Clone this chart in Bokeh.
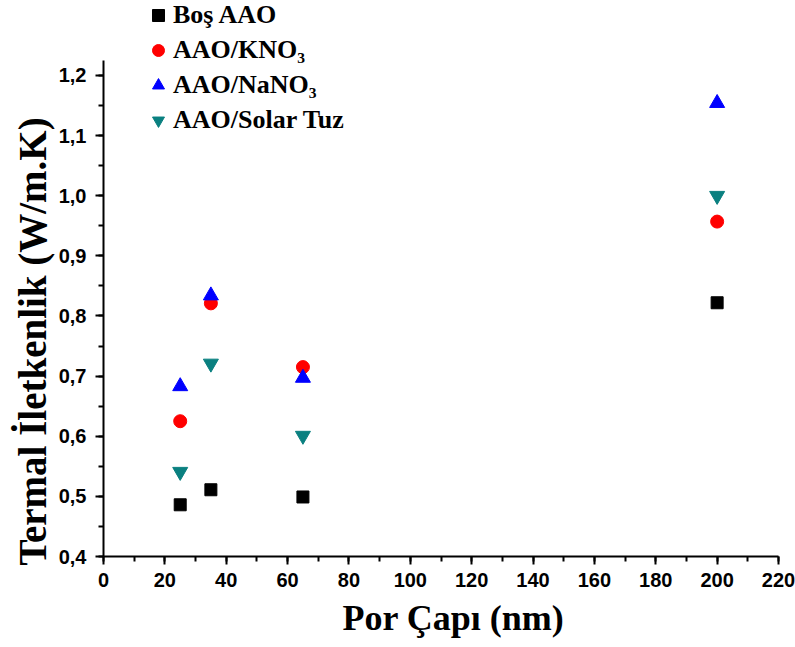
from bokeh.plotting import figure
from bokeh.models import Range1d, Legend, LegendItem, SingleIntervalTicker, CustomJSTickFormatter, Title
from bokeh.embed import file_html
from bokeh.resources import INLINE

# data
pore = [25, 35, 65, 200]
bos_aao = [0.486, 0.511, 0.499, 0.822]
aao_kno3 = [0.625, 0.821, 0.715, 0.957]
aao_nano3 = [0.683, 0.834, 0.697, 1.154]
aao_solar = [0.541, 0.721, 0.601, 1.000]
names = ["Boş AAO", "AAO/KNO₃", "AAO/NaNO₃", "AAO/Solar Tuz"]
x_title = "Por Çapı (nm)"
y_title = "Termal İletkenlik (W/m.K)"

p = figure(width=795, height=647, output_backend="svg", toolbar_location=None,
           x_range=Range1d(0, 220), y_range=Range1d(0.4, 1.3247),
           min_border_left=103, min_border_right=17, min_border_top=0, min_border_bottom=91)
p.outline_line_color = None
p.grid.visible = False
p.background_fill_color = "white"
p.border_fill_color = "white"

r1 = p.scatter(pore, bos_aao, marker="square", size=12, color="black")
r2 = p.scatter(pore, aao_kno3, marker="circle", size=13, color="#ff0000")
r3 = p.scatter(pore, aao_nano3, marker="triangle", size=15, color="#0000ff")
r4 = p.scatter(pore, aao_solar, marker="inverted_triangle", size=15, color="#0a8080")

fmt = CustomJSTickFormatter(code="return tick.toFixed(1).replace('.', ',');")
for ax in (p.xaxis[0], p.yaxis[0]):
    ax.axis_line_width = 2
    ax.major_tick_line_width = 2
    ax.minor_tick_line_width = 2
    ax.major_tick_out = 8
    ax.major_tick_in = 0
    ax.minor_tick_out = 5
    ax.minor_tick_in = 0
    ax.major_label_text_font = "Liberation Sans"
    ax.major_label_text_font_style = "bold"
    ax.major_label_text_font_size = "20px"
    ax.major_label_text_color = "black"

p.xaxis.ticker = SingleIntervalTicker(interval=20, num_minor_ticks=2)
p.yaxis.ticker = SingleIntervalTicker(interval=0.1, num_minor_ticks=2)
p.yaxis.formatter = fmt
p.yaxis.bounds = (0.4, 1.225)
p.xaxis.major_label_standoff = 8
p.yaxis.major_label_standoff = 9

p.add_layout(Title(text=x_title, align="left", offset=239, standoff=12,
                   text_font="Liberation Serif", text_font_style="bold", text_font_size="36px",
                   text_color="black"), "below")
p.add_layout(Title(text=y_title, align="left", offset=-9, standoff=4,
                   text_font="Liberation Serif", text_font_style="bold", text_font_size="39px",
                   text_color="black"), "left")

legend = Legend(items=[LegendItem(label=n, renderers=[r]) for n, r in zip(names, [r1, r2, r3, r4])],
                location=(40, 421), border_line_color=None, background_fill_alpha=0,
                padding=0, margin=0, spacing=5, glyph_width=30, glyph_height=30,
                label_height=30, label_standoff=0,
                label_text_font="Liberation Serif", label_text_font_style="bold",
                label_text_font_size="26px", label_text_color="black")
p.add_layout(legend, "center")

open("out.html", "w").write(file_html(p, INLINE))
